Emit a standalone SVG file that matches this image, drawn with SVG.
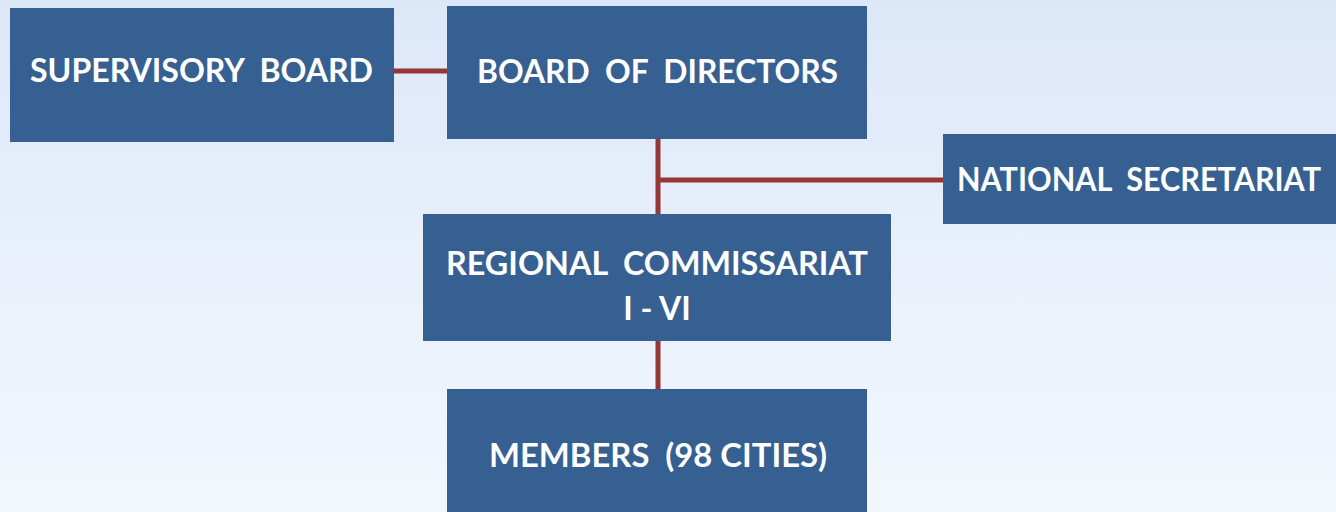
<svg xmlns="http://www.w3.org/2000/svg" width="1336" height="512" viewBox="0 0 1336 512">
<defs>
<linearGradient id="bg" x1="0" y1="0" x2="0" y2="1">
<stop offset="0" stop-color="#dce7f8"/>
<stop offset="0.5" stop-color="#e8f0fb"/>
<stop offset="1" stop-color="#f2f7fd"/>
</linearGradient>
<style>
.box{fill:#366092}
.t{fill:#ffffff;font-family:"Lato","Open Sans","Liberation Sans",sans-serif;font-weight:bold;font-size:32px;white-space:pre}
.c{stroke:#953735;stroke-width:5;fill:none}
</style>
</defs>
<rect x="0" y="0" width="1336" height="512" fill="url(#bg)"/>
<g id="connectors">
<line class="c" x1="394" y1="71" x2="447" y2="71"/>
<line class="c" x1="658" y1="139" x2="658" y2="214"/>
<line class="c" x1="658" y1="180" x2="943" y2="180"/>
<line class="c" x1="658" y1="341" x2="658" y2="389"/>
</g>
<g id="supervisory-board">
<rect class="box" x="10" y="8" width="384" height="134"/>
<text class="t" x="30" y="82" textLength="343" lengthAdjust="spacingAndGlyphs" xml:space="preserve">SUPERVISORY  BOARD</text>
</g>
<g id="board-of-directors">
<rect class="box" x="447" y="6" width="420" height="133"/>
<text class="t" x="477" y="83" textLength="361" lengthAdjust="spacingAndGlyphs" xml:space="preserve">BOARD  OF  DIRECTORS</text>
</g>
<g id="national-secretariat">
<rect class="box" x="943" y="134" width="393" height="90"/>
<text class="t" x="957" y="191" textLength="364" lengthAdjust="spacingAndGlyphs" xml:space="preserve">NATIONAL  SECRETARIAT</text>
</g>
<g id="regional-commissariat">
<rect class="box" x="423" y="214" width="468" height="127"/>
<text class="t" x="446" y="275" textLength="422" lengthAdjust="spacingAndGlyphs" xml:space="preserve">REGIONAL  COMMISSARIAT</text>
<text class="t" x="657" y="320" text-anchor="middle">I - VI</text>
</g>
<g id="members">
<rect class="box" x="447" y="389" width="420" height="123"/>
<text class="t" x="489" y="467" textLength="338" lengthAdjust="spacingAndGlyphs" xml:space="preserve">MEMBERS  (98 CITIES)</text>
</g>
</svg>
